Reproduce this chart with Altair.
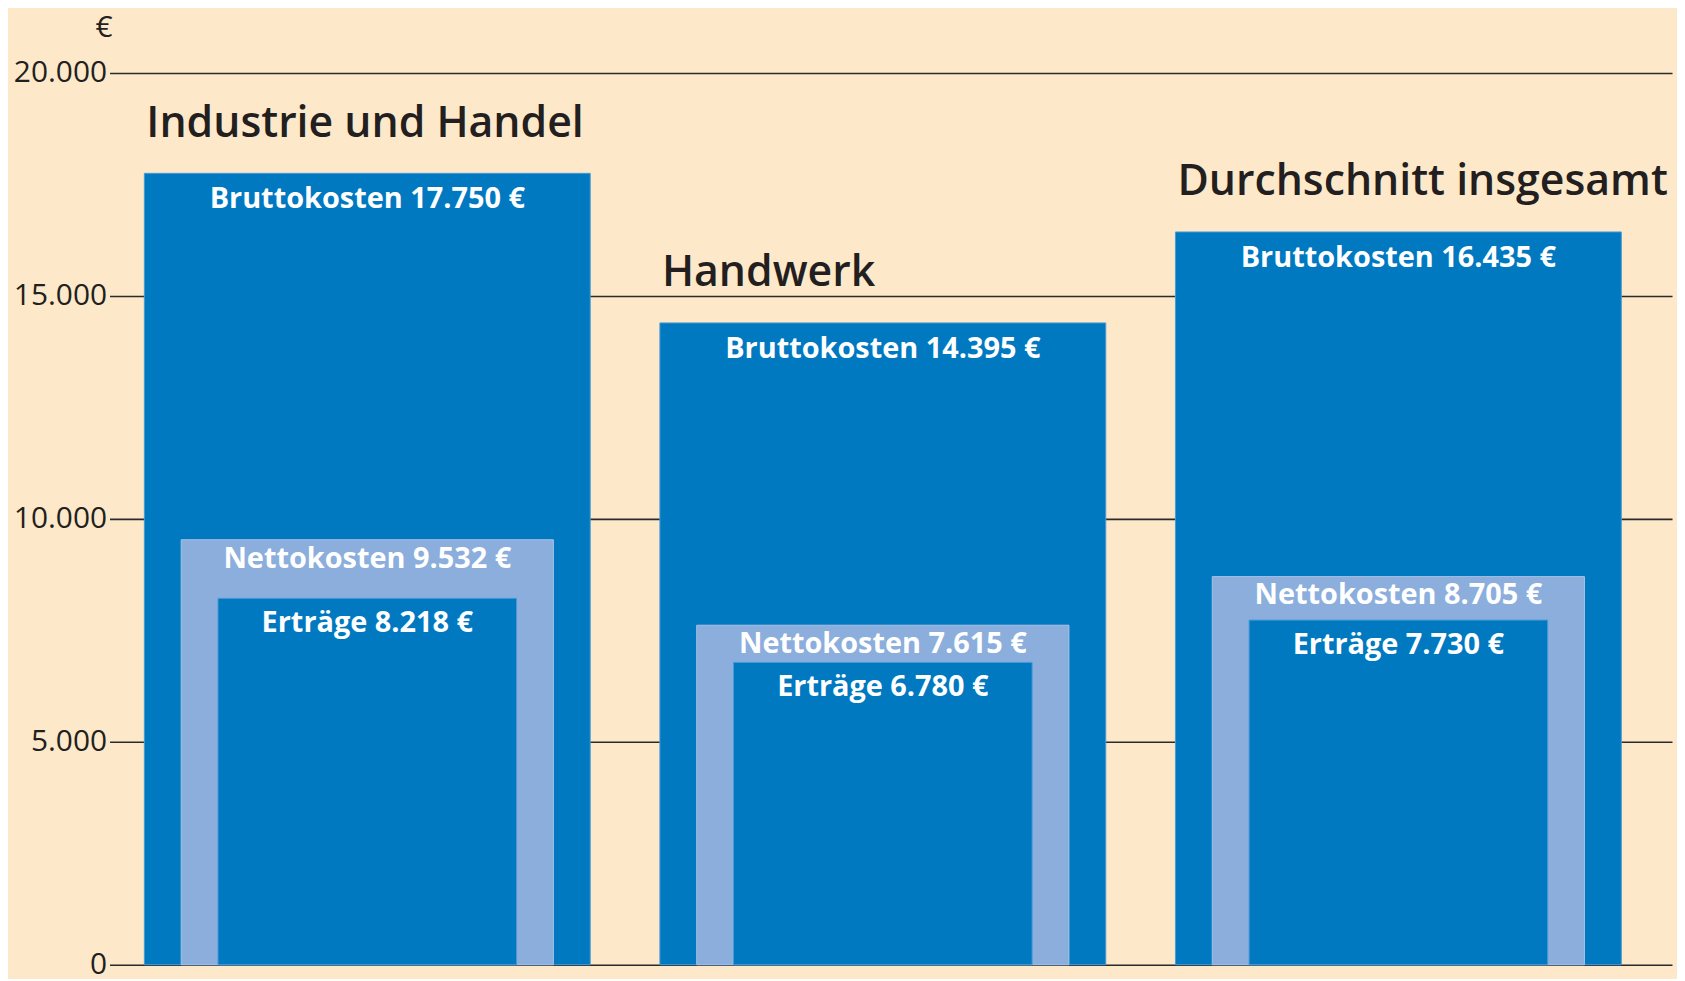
import altair as alt
import pandas as pd

categories = ["Industrie und Handel", "Handwerk", "Durchschnitt insgesamt"]
brutto = [17750, 14395, 16435]
netto = [9532, 7615, 8705]
ertraege = [8218, 6780, 7730]
y_ticks = [0, 5000, 10000, 15000, 20000]

BG = "#FDE9CA"
BLUE = "#0079C1"
LIGHT = "#8BAEDC"
FONT = "Open Sans"


def de(v):
    return f"{v:,}".replace(",", ".")


df = pd.DataFrame({
    "cat": categories,
    "brutto": brutto,
    "netto": netto,
    "ertraege": ertraege,
    "lb": [f"Bruttokosten {de(v)} €" for v in brutto],
    "ln": [f"Nettokosten {de(v)} €" for v in netto],
    "le": [f"Erträge {de(v)} €" for v in ertraege],
})

xenc = alt.X("cat:N", sort=categories, axis=None,
             scale=alt.Scale(paddingInner=0, paddingOuter=0.0154, align=0))
ysc = alt.Scale(domain=[0, 20000], nice=False)

base = alt.Chart(df)

outer = base.mark_bar(size=448, color=BLUE, stroke="#4a9ad6", strokeWidth=1).encode(
    x=xenc,
    y=alt.Y("brutto:Q", scale=ysc,
            axis=alt.Axis(values=y_ticks, grid=True, gridColor="#2b2b2b", gridWidth=1.6,
                          ticks=False, domain=False, labelFontSize=30, labelFont=FONT,
                          labelFontWeight=500,
                          labelColor="#231F20", labelPadding=3,
                          labelExpr="replace(format(datum.value, ','), ',', '.')",
                          title="€", titleAngle=0, titleX=-6, titleY=-46,
                          titleAlign="center", titleBaseline="middle",
                          titleFontSize=30, titleFontWeight="normal", titleFont=FONT,
                          titleColor="#231F20")),
)
mid = base.mark_bar(size=374, color=LIGHT, stroke="#a8c3e6", strokeWidth=1).encode(
    x=xenc, y=alt.Y("netto:Q", scale=ysc))
inner = base.mark_bar(size=300, color=BLUE, stroke="#4a9ad6", strokeWidth=1).encode(
    x=xenc, y=alt.Y("ertraege:Q", scale=ysc))

LBL = dict(color="white", font=FONT, fontSize=29, fontWeight="bold", baseline="middle")
t_b = base.mark_text(dy=26, **LBL).encode(
    x=xenc, y=alt.Y("brutto:Q", scale=ysc), text="lb:N")
t_n = base.mark_text(dy=19, **LBL).encode(
    x=xenc, y=alt.Y("netto:Q", scale=ysc), text="ln:N")
t_e = base.mark_text(dy=25, **LBL).encode(
    x=xenc, y=alt.Y("ertraege:Q", scale=ysc), text="le:N")
t_title = base.mark_text(color="#231F20", font=FONT, fontSize=43, fontWeight=600,
                         align="left", baseline="middle", dx=-222, dy=-50).encode(
    x=xenc, y=alt.Y("brutto:Q", scale=ysc), text="cat:N")

chart = alt.layer(outer, mid, inner, t_b, t_n, t_e, t_title).properties(
    width=1570, height=896,
    background=BG,
    padding={"left": 102, "top": 63, "right": 5, "bottom": 12},
    autosize=alt.AutoSizeParams(type="none"),
).configure_view(stroke=None)

chart.save("out.html", embed_options={"renderer": "svg", "actions": False})
